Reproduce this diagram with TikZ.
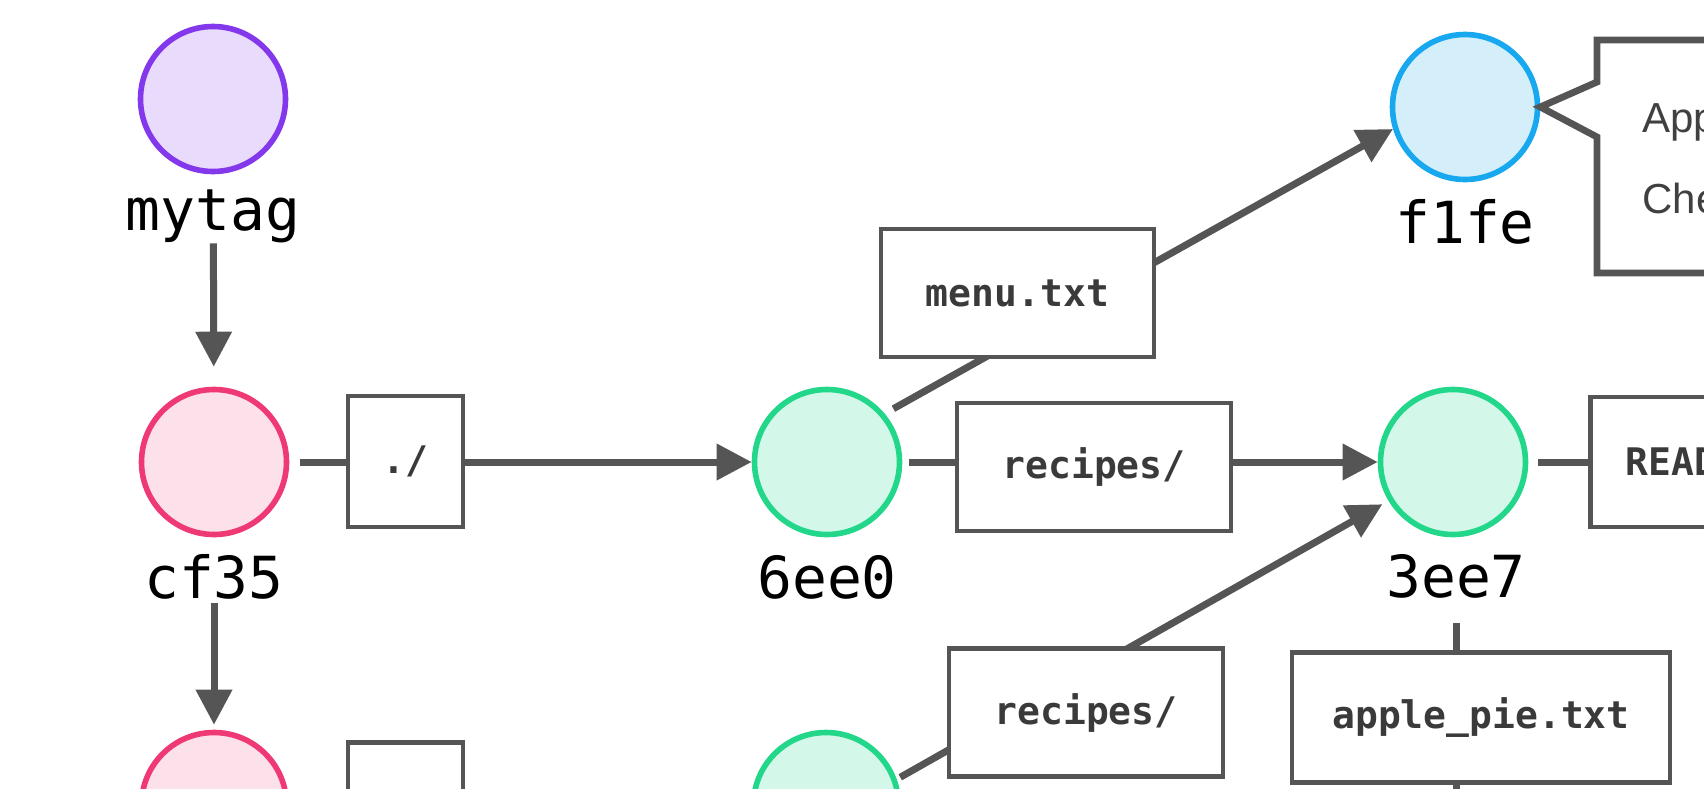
\documentclass[tikz,border=0pt]{standalone}
\usepackage{fontspec}
\setmonofont{DejaVu Sans Mono}
\newfontfamily\calloutfont{Liberation Sans}
\usetikzlibrary{arrows.meta}
\definecolor{edgegray}{HTML}{555555}
\definecolor{labelgray}{HTML}{3A3A3A}
\definecolor{textgray}{HTML}{404040}
\definecolor{purpleS}{HTML}{8338EC}
\definecolor{purpleF}{HTML}{E9DBFC}
\definecolor{pinkS}{HTML}{EF3975}
\definecolor{pinkF}{HTML}{FDE1EA}
\definecolor{greenS}{HTML}{22D68A}
\definecolor{greenF}{HTML}{D3F8EA}
\definecolor{blueS}{HTML}{18A8F0}
\definecolor{blueF}{HTML}{D4EFFA}
\begin{document}
\begin{tikzpicture}[x=0.5pt,y=-0.5pt,
  commit/.style={circle, line width=2.8pt, minimum size=72.5pt, inner sep=0pt},
  tagc/.style={commit, draw=purpleS, fill=purpleF},
  commitc/.style={commit, draw=pinkS, fill=pinkF},
  treec/.style={commit, draw=greenS, fill=greenF},
  blobc/.style={commit, draw=blueS, fill=blueF},
  hashlabel/.style={anchor=base, inner sep=0pt, font=\fontsize{29}{35}\selectfont\ttfamily, text=black},
  namebox/.style={draw=edgegray, line width=2.4pt, fill=white, inner sep=0pt,
    font=\fontsize{19}{23}\selectfont\ttfamily\bfseries, text=labelgray},
  conn/.style={draw=edgegray, line width=3.5pt},
  arr/.style={conn, -{Triangle[length=17.5pt,width=17.5pt]}},
  callouttext/.style={anchor=base west, inner sep=0pt, text=textgray,
    font=\calloutfont\fontsize{21}{24}\selectfont},
]
\useasboundingbox (0,0) rectangle (1704,788);
\fill[white] (0,0) rectangle (1704,788);
\clip (0,0) rectangle (1704,788);

% commits / trees / blobs
\node[tagc] (mytag) at (213,99) {};
\node[hashlabel] (lmytag) at (213,230) {mytag};
\node[commitc] (cf35) at (214,462) {};
\node[hashlabel] (lcf35) at (214,598) {cf35};
\node[commitc] (pinkb) at (214,805) {};
\node[treec] (n6ee0) at (827,462) {};
\node[hashlabel] (l6ee0) at (827,598) {6ee0};
\node[treec] (greenb) at (826,805) {};
\node[treec] (n3ee7) at (1453,462) {};
\node[hashlabel] (l3ee7) at (1456,597) {3ee7};
\node[blobc] (f1fe) at (1465,107) {};
\node[hashlabel] (lf1fe) at (1465,243) {f1fe};
\coordinate (offbottom) at (1456,820);

% README box (extends past the right edge)
\node[namebox, anchor=west, minimum height=65pt, text width=120pt, align=left, inner xsep=17.5pt] (breadme) at (1588,462) {READ};

% connectors
\draw[arr, shorten <=34.5pt, shorten >=10pt] (mytag) -- (cf35);
\draw[arr, shorten <=33pt, shorten >=2.5pt] (cf35) -- (pinkb);
\draw[arr, shorten <=5.5pt] (cf35) -- (n6ee0);
\draw[arr, shorten <=3.5pt] (n6ee0) -- (n3ee7);
\draw[arr, shorten <=5pt] (n6ee0.40) -- (f1fe.197);
\draw[arr, shorten <=2pt, shorten >=3.5pt] (greenb.20) -- (n3ee7.211);
\draw[conn, shorten <=5pt] (n3ee7.east) -- (breadme.west);
\draw[conn, shorten <=12.5pt] (l3ee7.south) -- (offbottom);

% name boxes on the connectors
\node[namebox, minimum width=57.5pt, minimum height=65.5pt] (bdot) at (405.5,461.5) {./};
\node[namebox, minimum width=57.5pt, minimum height=65.5pt] (bdot2) at (405.5,808) {};
\node[namebox, minimum width=136.5pt, minimum height=64pt] (bmenu) at (1017.5,293) {menu.txt};
\node[namebox, minimum width=137pt, minimum height=64pt] (brec1) at (1094,467) {recipes/};
\node[namebox, minimum width=137pt, minimum height=64pt] (brec2) at (1086,712.5) {recipes/};
\node[namebox, minimum width=189pt, minimum height=65pt] (bapple) at (1481,717.5) {apple\_pie.txt};

% callout with blob contents
\draw[edgegray, line width=3.4pt, fill=white] (1597,40) -- (1597,82) -- (f1fe.east) -- (1597,137) -- (1597,273) -- (1760,273) -- (1760,40) -- cycle;
\node[callouttext] (capp) at (1642,132) {App};
\node[callouttext] (cche) at (1642,213) {Che};
\end{tikzpicture}
\end{document}
